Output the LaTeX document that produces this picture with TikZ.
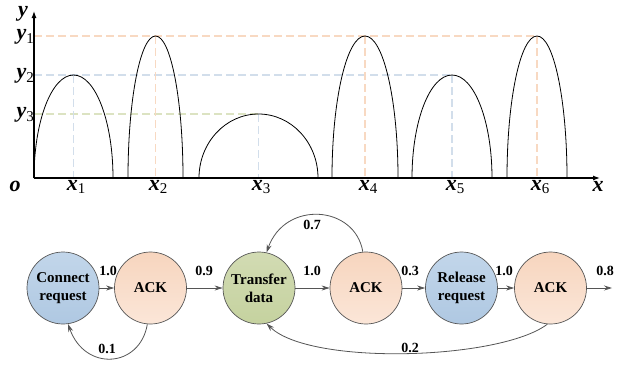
\documentclass[tikz,border=0pt]{standalone}
\usepackage{fontspec}
\setmainfont{Liberation Serif}[BoldFont={Liberation Serif Bold},ItalicFont={Liberation Serif Italic},BoldItalicFont={Liberation Serif Bold Italic}]
\usetikzlibrary{arrows.meta}
\definecolor{dorange}{HTML}{F8D9C2}
\definecolor{dblue}{HTML}{D2DEEB}
\definecolor{dgreen}{HTML}{DCE3C2}
\definecolor{cblueT}{HTML}{C2D6EA}
\definecolor{cblueB}{HTML}{AFC8E2}
\definecolor{corT}{HTML}{F7D5BE}
\definecolor{corB}{HTML}{FBE6D8}
\definecolor{cgrT}{HTML}{D2DBB3}
\definecolor{cgrB}{HTML}{C5D29F}
\definecolor{edgegray}{HTML}{555555}
\begin{document}
\begin{tikzpicture}[x=1pt,y=-1pt,
  arch/.style={draw=black,line width=0.8pt},
  axis/.style={draw=black,line width=1.2pt,-{Latex[length=7pt,width=5pt]}},
  guide/.style={line width=1.3pt,dash pattern=on 8pt off 4pt},
  lbl/.style={font=\fontsize{22}{22}\selectfont\bfseries\itshape,inner sep=0pt},
  state/.style={circle,draw=edgegray,line width=0.7pt,minimum size=72pt,inner sep=0pt,align=center,
    font=\fontsize{15}{18}\selectfont\bfseries},
  bluestate/.style={state,top color=cblueT,bottom color=cblueB},
  orstate/.style={state,top color=corT,bottom color=corB},
  grstate/.style={state,top color=cgrT,bottom color=cgrB},
  edge/.style={draw=edgegray,line width=0.8pt,-{Stealth[length=8pt,width=5pt]}},
  elbl/.style={font=\fontsize{14}{14}\selectfont\bfseries,inner sep=1pt}]
\useasboundingbox (0,0) rectangle (623,365);
\newcommand{\sub}[1]{\raisebox{-0.35ex}{\fontsize{15}{15}\selectfont\upshape\mdseries #1}}
% guide lines
\draw[guide,dorange] (34,36) -- (537,36);
\draw[guide,dblue] (34,75) -- (452,75);
\draw[guide,dgreen] (34,114) -- (259,114);
\draw[guide,dblue] (73.5,75) -- (73.5,178);
\draw[guide,dorange] (155.5,36) -- (155.5,178);
\draw[guide,dblue] (258.5,114) -- (258.5,178);
\draw[guide,dorange] (365,36) -- (365,178);
\draw[guide,dblue] (452,75) -- (452,178);
\draw[guide,dorange] (537,36) -- (537,178);
% arches
\draw[arch] (34,178) arc[start angle=180,end angle=0,x radius=39.5pt,y radius=103pt];
\draw[arch] (128,178) arc[start angle=180,end angle=0,x radius=27.5pt,y radius=142pt];
\draw[arch] (199,178) arc[start angle=180,end angle=0,x radius=59.5pt,y radius=64pt];
\draw[arch] (332,178) arc[start angle=180,end angle=0,x radius=33pt,y radius=142pt];
\draw[arch] (412,178) arc[start angle=180,end angle=0,x radius=40pt,y radius=103pt];
\draw[arch] (507,178) arc[start angle=180,end angle=0,x radius=30pt,y radius=142pt];
% axes
\coordinate (O) at (34,178);
\coordinate (Ytip) at (34,11);
\coordinate (Xtip) at (600,178);
\draw[axis] (O) -- (Ytip);
\draw[axis] (O) -- (Xtip);
% axis labels
\node[lbl] (ly) at (23,14) {y};
\node[lbl] (lo) at (15,186) {o};
\node[lbl] (lx) at (598,186) {x};
\node[lbl,anchor=east] (ly1) at (34,37) {y\sub{1}};
\node[lbl,anchor=east] (ly2) at (34,76) {y\sub{2}};
\node[lbl,anchor=east] (ly3) at (34,115) {y\sub{3}};
\node[lbl] (lx1) at (76,187) {x\sub{1}};
\node[lbl] (lx2) at (158,187) {x\sub{2}};
\node[lbl] (lx3) at (261,187) {x\sub{3}};
\node[lbl] (lx4) at (368,187) {x\sub{4}};
\node[lbl] (lx5) at (455,187) {x\sub{5}};
\node[lbl] (lx6) at (540,187) {x\sub{6}};
% states
\node[bluestate] (c1) at (63,288) {Connect\\request};
\node[orstate] (a1) at (150.5,288) {ACK};
\node[grstate] (td) at (259,288) {Transfer\\data};
\node[orstate] (a2) at (366,288) {ACK};
\node[bluestate] (rr) at (461.5,288) {Release\\request};
\node[orstate] (a3) at (550.5,288) {ACK};
\coordinate (out) at (612,288);
% edges
\draw[edge] (c1) -- (a1);
\draw[edge] (a1) -- (td);
\draw[edge] (td) -- (a2);
\draw[edge] (a2) -- (rr);
\draw[edge] (rr) -- (a3);
\draw[edge] (a3) -- (out);
\node[elbl] (l10a) at (108,271) {1.0};
\node[elbl] (l09) at (204,271) {0.9};
\node[elbl] (l10b) at (312,271) {1.0};
\node[elbl] (l03) at (410,271) {0.3};
\node[elbl] (l10c) at (504,271) {1.0};
\node[elbl] (l08) at (605,271) {0.8};
% loops
\draw[edge] (a1.-95) .. controls (140,368) and (85,372) .. (c1.-82);
\draw[edge] (a2.95) .. controls (355,205) and (285,200) .. (td.78);
\draw[edge] (a3.-95) .. controls (500,360) and (310,366) .. (td.-78);
\node[elbl] (l01) at (107,349) {0.1};
\node[elbl] (l07) at (312,225) {0.7};
\node[elbl] (l02) at (410,348) {0.2};
\end{tikzpicture}
\end{document}
